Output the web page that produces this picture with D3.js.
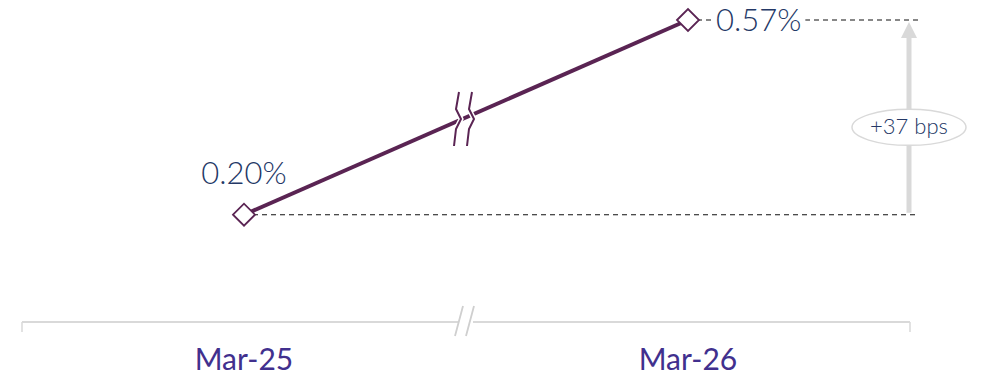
<!DOCTYPE html>
<html><head><meta charset="utf-8">
<script src="https://cdn.jsdelivr.net/npm/d3@7"></script>
<style>body{margin:0;background:#fff}svg{display:block}text{font-family:Lato,"Open Sans",sans-serif;font-weight:300}text.xl{font-weight:400}</style>
</head><body><svg id="c" width="984" height="377"></svg>
<script>
const categories = ["Mar-25", "Mar-26"];
const values = [0.20, 0.57];
const valueLabels = ["0.20%", "0.57%"];
const changeLabel = "+37 bps";

const svg = d3.select("#c");
const x = d3.scaleBand().domain(categories).range([22, 910]);
const cx = d => x(d) + x.bandwidth() / 2;
const y = d3.scaleLinear().domain([0, 0.57]).range([320, 20]);
const purple = "#5a2453", navy = "#243866", axisCol = "#41308e", grey = "#d9d9d9";

// axis
const ay = 322;
const ax = svg.append("g");
ax.append("line").attr("x1", 22).attr("x2", 458).attr("y1", ay).attr("y2", ay).attr("stroke", grey).attr("stroke-width", 2);
ax.append("line").attr("x1", 473).attr("x2", 910).attr("y1", ay).attr("y2", ay).attr("stroke", grey).attr("stroke-width", 2);
[22, 910].forEach(px => ax.append("line").attr("x1", px).attr("x2", px).attr("y1", ay).attr("y2", ay + 10).attr("stroke", grey).attr("stroke-width", 1.5));
[[455, 463], [466, 474]].forEach(([a, b]) => ax.append("line").attr("x1", a).attr("y1", 336).attr("x2", b).attr("y2", 306).attr("stroke", "#cfcfcf").attr("stroke-width", 1.8));
svg.selectAll(".xl").data(categories).join("text").attr("class", "xl")
  .attr("x", d => cx(d)).attr("y", 370).attr("text-anchor", "middle")
  .attr("font-size", 30).attr("fill", axisCol).text(d => d);

// dashed reference lines
values.forEach((v, i) => {
  svg.append("line").attr("x1", cx(categories[i])).attr("x2", 918)
    .attr("y1", y(v)).attr("y2", y(v)).attr("stroke", "#111").attr("stroke-width", 1.1)
    .attr("stroke-dasharray", "5,4");
});

// arrow
const axX = 909;
const y0 = y(values[0]) - 2, y1 = y(values[1]) + 2;
svg.append("line").attr("x1", axX).attr("x2", axX).attr("y1", y0).attr("y2", y1 + 14).attr("stroke", grey).attr("stroke-width", 5);
svg.append("path").attr("d", `M${axX - 8},${y1 + 16} L${axX},${y1} L${axX + 8},${y1 + 16} Z`).attr("fill", grey);
const my = (y0 + y1) / 2 + 10;
svg.append("ellipse").attr("cx", axX).attr("cy", my).attr("rx", 57).attr("ry", 18).attr("fill", "#fff").attr("stroke", grey).attr("stroke-width", 1.5);
svg.append("text").attr("x", axX).attr("y", my + 7).attr("text-anchor", "middle").attr("font-size", 22).attr("fill", navy).text(changeLabel);

// line
const line = d3.line().x((d, i) => cx(categories[i])).y(d => y(d));
svg.append("path").datum(values).attr("d", line).attr("fill", "none").attr("stroke", purple).attr("stroke-width", 4);

// break marks on line
[457, 470].forEach(bx => {
  svg.append("path").attr("d", `M${bx + 2},92 L${bx - 1},109 L${bx + 4},119 L${bx - 1},129 L${bx - 3},146`)
    .attr("fill", "none").attr("stroke", "#fff").attr("stroke-width", 5);
  svg.append("path").attr("d", `M${bx + 2},92 L${bx - 1},109 L${bx + 4},119 L${bx - 1},129 L${bx - 3},146`)
    .attr("fill", "none").attr("stroke", purple).attr("stroke-width", 2);
});

// markers
svg.selectAll(".mk").data(values).join("path").attr("class", "mk")
  .attr("d", (d, i) => { const px = cx(categories[i]), py = y(d), r = 11; return `M${px - r},${py} L${px},${py - r} L${px + r},${py} L${px},${py + r} Z`; })
  .attr("fill", "#fff").attr("stroke", purple).attr("stroke-width", 1.8);

// value labels
svg.append("text").attr("x", cx(categories[0])).attr("y", y(values[0]) - 31).attr("text-anchor", "middle")
  .attr("font-size", 31).attr("fill", navy).text(valueLabels[0]);
const t2 = svg.append("text").attr("x", 716).attr("y", y(values[1]) + 11)
  .attr("font-size", 31).attr("fill", navy).text(valueLabels[1]);
const bb = t2.node().getBBox();
svg.insert("rect", "text:last-child").attr("x", bb.x - 4).attr("y", y(values[1]) - 3).attr("width", bb.width + 8).attr("height", 6).attr("fill", "#fff");
</script></body></html>
